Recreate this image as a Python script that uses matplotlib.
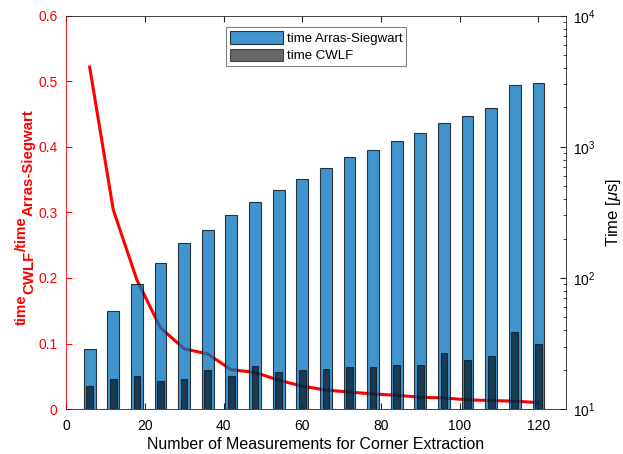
import numpy as np
import matplotlib
matplotlib.use("Agg")
import matplotlib.pyplot as plt

plt.rcParams['font.family'] = ['Liberation Sans', 'DejaVu Sans']
plt.rcParams['mathtext.fontset'] = 'custom'
plt.rcParams['mathtext.rm'] = 'Liberation Sans'
plt.rcParams['mathtext.it'] = 'Liberation Sans:italic'
plt.rcParams['mathtext.bf'] = 'Liberation Sans:bold'

# number of measurements (x positions of the bars / line points)
n_meas = [6, 12, 18, 24, 30, 36, 42, 48, 54, 60, 66, 72, 78, 84, 90, 96, 102, 108, 114, 120]

# run times in microseconds (right, log axis)
time_arras = [28.7, 56, 90, 130, 186, 232, 303, 380, 469, 570,
              691, 839, 949, 1111, 1279, 1525, 1725, 1986, 2970, 3080]
time_cwlf = [15.0, 17.0, 17.9, 16.4, 16.9, 19.9, 17.9, 21.3, 19.1, 19.9,
             20.1, 20.8, 21.0, 21.7, 21.8, 26.7, 23.5, 25.2, 38.5, 31.3]

# ratio time_CWLF / time_Arras-Siegwart (left axis)
ratio = [0.522, 0.304, 0.197, 0.124, 0.092, 0.084, 0.060, 0.056, 0.044, 0.035,
         0.029, 0.026, 0.023, 0.021, 0.018, 0.017, 0.014, 0.013, 0.012, 0.0098]

# left y label, split into (text, is_subscript) pieces
ylabel_parts = [('time', False), ('CWLF', True), ('/time', False), ('Arras-Siegwart', True)]

matlab_blue = (0, 0.447, 0.741)
axis_gray = (0.15, 0.15, 0.15)

W, H = 623, 454
fig = plt.figure(figsize=(W / 100, H / 100), dpi=100)
ax = fig.add_axes([0.106, 0.099, 0.8025, 0.866])
ax2 = ax.twinx()

# ratio line on the left axis (drawn below the bars)
ax.plot(n_meas, ratio, color='red', linewidth=2.2, solid_joinstyle='round')
ax.set_xlim(0, 127)
ax.set_ylim(0, 0.6)
ax.set_yticks(np.arange(0, 0.61, 0.1))
ax.set_yticklabels(['0', '0.1', '0.2', '0.3', '0.4', '0.5', '0.6'])
ax.set_xticks(range(0, 121, 20))
ax.tick_params(axis='y', colors='red', direction='in', length=4, labelsize=10, pad=6)
ax.tick_params(axis='x', colors=axis_gray, labelcolor='black', direction='in',
               length=4, labelsize=10, pad=7, top=True)
ax.set_xlabel('Number of Measurements for Corner Extraction', fontsize=11.5, labelpad=3)
ax.spines['left'].set_color('red')
for s in ['top', 'bottom', 'right']:
    ax.spines[s].set_color(axis_gray)
    ax.spines[s].set_linewidth(0.6)
ax.spines['left'].set_linewidth(0.6)

# bars on the right log axis
x = np.array(n_meas)
ax2.set_yscale('log')
ax2.bar(x, time_arras, width=3.0, color=matlab_blue, alpha=0.75,
        edgecolor='black', linewidth=0.8, label='time Arras-Siegwart')
ax2.bar(x, time_cwlf, width=1.7, color='black', alpha=0.6,
        edgecolor='black', linewidth=0.8, label='time CWLF')
ax2.set_ylim(10, 1e4)
ax2.set_xlim(0, 127)
ax2.tick_params(axis='y', which='major', direction='in', length=4,
                colors=axis_gray, labelcolor='black', labelsize=10, pad=5)
ax2.tick_params(axis='y', which='minor', direction='in', length=2, colors=axis_gray)
ax2.set_ylabel(r'Time [$\mu$s]', fontsize=12, labelpad=6)
for s in ax2.spines.values():
    s.set_visible(False)

leg = ax2.legend(loc='upper center', bbox_to_anchor=(0.5, 0.972), fontsize=9.5,
                 fancybox=False, edgecolor=(0.5, 0.5, 0.5), framealpha=1,
                 handlelength=4.0, handleheight=1.1, borderpad=0.3,
                 labelspacing=0.3, handletextpad=0.3, borderaxespad=0)
leg.get_frame().set_linewidth(0.8)

# rotated bold red y label with same-size subscripts (as in the MATLAB figure)
renderer = fig.canvas.get_renderer()
pieces = []
for txt, sub in ylabel_parts:
    t = fig.text(0, 0, txt, rotation=90, rotation_mode='anchor', ha='left',
                 va='baseline', color='red', fontsize=10.8, fontweight='bold')
    ext = t.get_window_extent(renderer)
    pieces.append((t, sub, ext.height))
total = sum(p[2] for p in pieces)
y_px = (H - 217) - total / 2  # bottom start, in pixels from the bottom
for t, sub, length in pieces:
    x_px = 33 if sub else 26
    t.set_position((x_px / W, y_px / H))
    y_px += length

fig.savefig('out.png', dpi=100)
